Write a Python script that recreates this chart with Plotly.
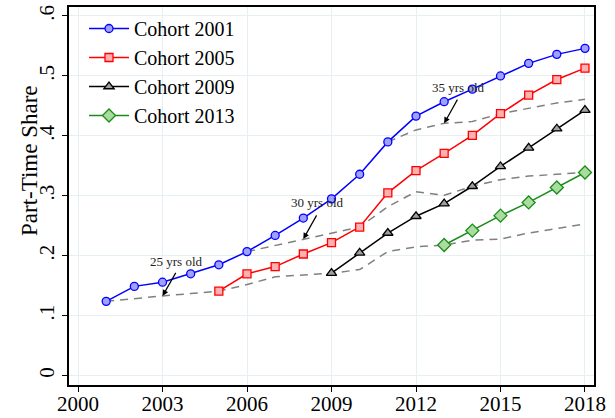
import plotly.graph_objects as go

# Part-time share by entry cohort, with fixed-age reference lines
years_2001 = list(range(2001, 2019))
years_2005 = list(range(2005, 2019))
years_2009 = list(range(2009, 2019))
years_2013 = list(range(2013, 2019))

cohort_2001 = [0.124, 0.149, 0.156, 0.170, 0.185, 0.207, 0.234, 0.263, 0.295,
               0.336, 0.390, 0.433, 0.457, 0.478, 0.500, 0.521, 0.536, 0.546]
cohort_2005 = [0.141, 0.170, 0.182, 0.203, 0.222, 0.248, 0.305, 0.342, 0.371,
               0.401, 0.437, 0.468, 0.494, 0.513]
cohort_2009 = [0.171, 0.205, 0.238, 0.266, 0.287, 0.316, 0.349, 0.380, 0.412, 0.443]
cohort_2013 = [0.218, 0.242, 0.267, 0.289, 0.314, 0.339]

# Same-age benchmarks (age 25, 30, 35)
years_age25 = list(range(2001, 2019))
age_25 = [0.124, 0.129, 0.133, 0.137, 0.141, 0.152, 0.165, 0.168, 0.171,
          0.177, 0.207, 0.215, 0.218, 0.226, 0.228, 0.238, 0.246, 0.253]
years_age30 = list(range(2006, 2019))
age_30 = [0.207, 0.217, 0.228, 0.237, 0.248, 0.282, 0.307, 0.301, 0.316,
          0.327, 0.333, 0.336, 0.339]
years_age35 = list(range(2011, 2019))
age_35 = [0.390, 0.410, 0.421, 0.424, 0.437, 0.446, 0.455, 0.461]

x_ticks = [2000, 2003, 2006, 2009, 2012, 2015, 2018]
y_ticks = [0, 0.1, 0.2, 0.3, 0.4, 0.5, 0.6]
y_tick_text = ["0", ".1", ".2", ".3", ".4", ".5", ".6"]

age_labels = ["25 yrs old", "30 yrs old", "35 yrs old"]
# (label x, label y, arrow tail x, tail y, arrow tip x, tip y)
age_arrows = [
    (2003.5, 0.190, 2003.5, 0.174, 2003.0, 0.133),
    (2008.5, 0.289, 2008.5, 0.270, 2008.0, 0.228),
    (2013.5, 0.480, 2013.5, 0.463, 2013.0, 0.421),
]

FONT = "Liberation Serif"
fig = go.Figure()

for xs, ys in [(years_age25, age_25), (years_age30, age_30), (years_age35, age_35)]:
    fig.add_trace(go.Scatter(
        x=xs, y=ys, mode="lines", showlegend=False, hoverinfo="skip",
        line=dict(color="#808080", width=1.5, dash="8px,6px"),
    ))

series = [
    ("Cohort 2001", years_2001, cohort_2001, "#0000ff", "rgba(160,160,255,1)", "circle", 8),
    ("Cohort 2005", years_2005, cohort_2005, "#ff0000", "rgba(255,176,176,1)", "square", 8),
    ("Cohort 2009", years_2009, cohort_2009, "#000000", "rgba(160,160,160,1)", "triangle-up", 9),
    ("Cohort 2013", years_2013, cohort_2013, "#1a8c1a", "rgba(170,220,160,1)", "diamond", 10),
]
for name, xs, ys, col, fill, sym, sz in series:
    fig.add_trace(go.Scatter(
        x=xs, y=ys, mode="lines+markers", name=name,
        line=dict(color=col, width=1.5),
        marker=dict(symbol=sym, size=sz, color=fill, line=dict(color=col, width=1.3)),
    ))

W, H = 615, 418
L, R, T, B = 69, 21, 7, 33
PW, PH = W - L - R, H - T - B

annotations = []
for label, (tx, ty, ax, ay, hx, hy) in zip(age_labels, age_arrows):
    annotations.append(dict(
        x=tx, y=ty, xref="x", yref="y", text=label, showarrow=False,
        font=dict(family=FONT, size=13, color="#222"),
    ))
    annotations.append(dict(
        x=hx, y=hy, xref="x", yref="y", ax=ax, ay=ay, axref="x", ayref="y",
        text="", showarrow=True, arrowhead=2, arrowsize=1, arrowwidth=1.2,
        arrowcolor="#000",
    ))
# y-axis title, placed by pixel position
annotations.append(dict(
    x=(29 - L) / PW, y=(H - B - 160) / PH, xref="paper", yref="paper",
    xanchor="center", yanchor="middle", text="Part-Time Share",
    showarrow=False, textangle=-90, font=dict(family=FONT, size=23, color="#000"),
))

grid = "#e6eff1"
fig.update_layout(
    width=W, height=H, autosize=False,
    margin=dict(l=L, r=R, t=T, b=B, pad=0),
    paper_bgcolor="white", plot_bgcolor="white",
    font=dict(family=FONT, size=20, color="#000"),
    annotations=annotations,
    legend=dict(
        x=(84 - L) / PW, y=(H - B - 9) / PH, xanchor="left", yanchor="top",
        bgcolor="rgba(0,0,0,0)", borderwidth=0,
        font=dict(family=FONT, size=20, color="#000"),
        tracegroupgap=0, itemwidth=40,
    ),
    xaxis=dict(
        range=[1999.68, 2018.32], tickvals=x_ticks, ticks="outside", ticklen=5,
        tickcolor="#000", showline=True, linecolor="#000", linewidth=1.5, mirror=True,
        showgrid=True, gridcolor=grid, gridwidth=1, zeroline=False, automargin=False,
        ticklabelstandoff=-6,
        tickfont=dict(family=FONT, size=21, color="#000"),
    ),
    yaxis=dict(
        range=[-0.0155, 0.615], tickvals=y_ticks, ticktext=y_tick_text,
        ticks="outside", ticklen=5, tickangle=-90, tickcolor="#000",
        showline=True, linecolor="#000", linewidth=1.5, mirror=True,
        showgrid=True, gridcolor=grid, gridwidth=1, zeroline=False, automargin=False,
        tickfont=dict(family=FONT, size=21, color="#000"),
    ),
)

fig.write_html("out.html")
